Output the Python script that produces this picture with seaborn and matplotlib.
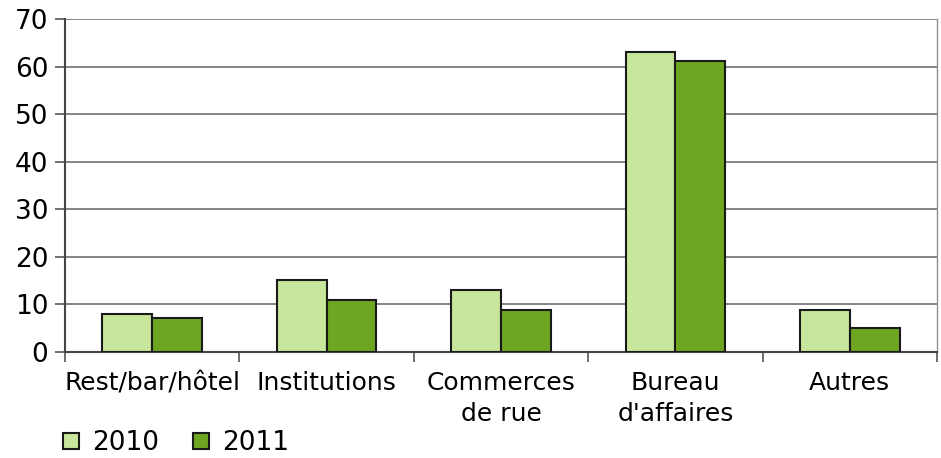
import matplotlib
matplotlib.use("Agg")
import matplotlib.pyplot as plt
import seaborn as sns
import pandas as pd
from matplotlib.patches import Patch

categories = ["Rest/bar/hôtel", "Institutions", "Commerces\nde rue", "Bureau\nd'affaires", "Autres"]
years = ["2010", "2011"]
values_2010 = [8.0, 15.1, 13.0, 63.0, 8.8]
values_2011 = [7.1, 10.9, 8.8, 61.2, 5.0]
yticks = [0, 10, 20, 30, 40, 50, 60, 70]
colors = ["#C8E69C", "#6EA622"]

df = pd.DataFrame({
    "cat": categories * 2,
    "year": [years[0]] * 5 + [years[1]] * 5,
    "val": values_2010 + values_2011,
})

sns.set_style("white")
plt.rcParams['font.family'] = ['DejaVu Sans']
plt.rcParams['text.color'] = 'black'
plt.rcParams['xtick.color'] = 'black'
plt.rcParams['ytick.color'] = 'black'

fig = plt.figure(figsize=(9.41, 4.58), dpi=100)
ax = fig.add_axes([65/941, 1 - 351.7/458, (937-65)/941, (351.7-19)/458])

sns.barplot(data=df, x="cat", y="val", hue="year", palette=colors, width=0.57, saturation=1,
            edgecolor="#1a1a1a", linewidth=1.5, ax=ax, legend=False, zorder=3)

fs = 18
ax.set_ylim(0, 70)
ax.set_xlim(-0.5, 4.5)
ax.set_yticks(yticks)
ax.set_yticklabels([str(v) for v in yticks], fontsize=19)
ax.yaxis.grid(True, color="#707070", linewidth=1.2, zorder=0)
ax.set_axisbelow(True)
ax.set_xlabel("")
ax.set_ylabel("")

ax.set_xticks(range(len(categories)))
ax.set_xticklabels(categories, fontsize=fs, linespacing=1.35)
ax.tick_params(axis="x", which="major", length=0, pad=14, bottom=True)
ax.set_xticks([i + 0.5 for i in range(-1, len(categories))], minor=True)
ax.tick_params(axis="x", which="minor", length=7, width=1.2, color="#555555", direction="out", bottom=True)
ax.tick_params(axis="y", length=7, width=1.2, color="#555555", direction="out", pad=5, left=True)

for s in ["left", "bottom"]:
    ax.spines[s].set_color("#444444")
    ax.spines[s].set_linewidth(1.5)
ax.spines["top"].set_visible(False)
ax.spines["right"].set_color("#909090")
ax.spines["right"].set_linewidth(1.0)

handles = [Patch(facecolor=colors[i], edgecolor="#1a1a1a", linewidth=1.5, label=years[i]) for i in range(2)]
fig.legend(handles=handles, loc="lower left", bbox_to_anchor=(39/941, -0.048), ncol=2, frameon=False,
           fontsize=19, handlelength=0.6, handleheight=0.6, handletextpad=0.5, columnspacing=1.3)

fig.savefig("out.png", dpi=100)
